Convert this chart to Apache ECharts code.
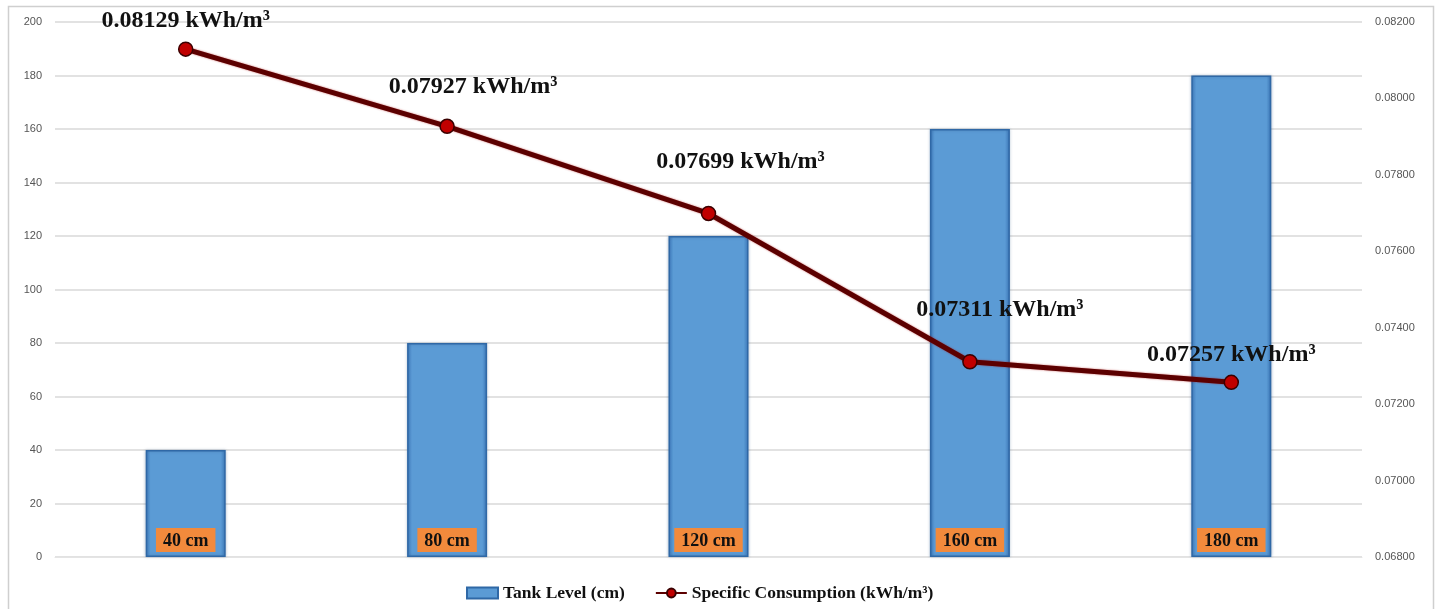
<!DOCTYPE html>
<html>
<head>
<meta charset="utf-8">
<title>Tank Level vs Specific Consumption</title>
<script src="https://cdn.jsdelivr.net/npm/echarts@6/dist/echarts.min.js"></script>
<style>
  html, body { margin: 0; padding: 0; background: #ffffff; }
  #chart { width: 1439px; height: 609px; }
</style>
</head>
<body>
<div id="chart"></div>
<script>
// Tank levels tested (category axis)
const categories = ['40 cm', '80 cm', '120 cm', '160 cm', '180 cm'];
// Tank level in cm (bars, left axis)
const tankLevel = [40, 80, 120, 160, 180];
// Specific energy consumption in kWh/m³ (line, right axis)
const specificConsumption = [0.08129, 0.07927, 0.07699, 0.07311, 0.07257];
// Left-axis range and right-axis range
const leftAxis = { min: 0, max: 200, interval: 20 };
const rightAxis = { min: 0.068, max: 0.082, interval: 0.002 };

const serif = '"Liberation Serif", "Times New Roman", serif';
const sans = '"Liberation Sans", Arial, sans-serif';

// label nudges for the consumption labels: [dx, dy]
const lineLabelNudge = [[0, -28], [26, -40], [32, -52], [30, -52], [0, -28]];

const chart = echarts.init(document.getElementById('chart'), null, { renderer: 'canvas' });

const option = {
  backgroundColor: '#ffffff',
  animation: false,
  graphic: [{
    type: 'rect',
    shape: { x: 8.5, y: 6.5, width: 1425, height: 610 },
    style: { fill: 'none', stroke: '#cfcfcf', lineWidth: 1.5 },
    silent: true, z: -1
  }],
  grid: { left: 55, right: 77, top: 22, bottom: 52, containLabel: false },
  legend: {
    left: 461,
    top: 579,
    itemGap: 30,
    itemWidth: 31,
    itemHeight: 11,
    textStyle: { fontFamily: serif, fontWeight: 'bold', fontSize: 17.5, color: '#111' },
    data: [
      { name: 'Tank Level (cm)', icon: 'rect' },
      { name: 'Specific Consumption (kWh/m³)' }
    ]
  },
  xAxis: {
    type: 'category',
    data: categories,
    axisLine: { show: true, lineStyle: { color: '#e4e4e4', width: 1 } },
    axisTick: { show: false },
    axisLabel: { show: false }
  },
  yAxis: [
    {
      type: 'value',
      min: leftAxis.min, max: leftAxis.max, interval: leftAxis.interval,
      axisLine: { show: false },
      axisTick: { show: false },
      axisLabel: { margin: 13, fontFamily: sans, fontSize: 11, color: '#555' },
      splitLine: { lineStyle: { color: '#d9d9d9', width: 1.5 } }
    },
    {
      type: 'value',
      min: rightAxis.min, max: rightAxis.max, interval: rightAxis.interval,
      axisLine: { show: false },
      axisTick: { show: false },
      splitLine: { show: false },
      axisLabel: {
        margin: 13, fontFamily: sans, fontSize: 11, color: '#555',
        formatter: v => v.toFixed(5)
      }
    }
  ],
  series: [
    {
      name: 'Tank Level (cm)',
      type: 'bar',
      yAxisIndex: 0,
      barWidth: 80,
      data: tankLevel,
      itemStyle: {
        color: {
          type: 'linear', x: 0, y: 0, x2: 1, y2: 0,
          colorStops: [
            { offset: 0, color: '#3f7bbd' },
            { offset: 0.06, color: '#5b9bd5' },
            { offset: 0.94, color: '#5b9bd5' },
            { offset: 1, color: '#3f7bbd' }
          ]
        },
        borderColor: '#2f68a6',
        borderWidth: 1.5,
        shadowColor: 'rgba(40,80,130,0.35)',
        shadowBlur: 3
      },
      label: {
        show: true,
        position: 'insideBottom',
        distance: 5,
        formatter: p => categories[p.dataIndex],
        fontFamily: serif,
        fontWeight: 'bold',
        fontSize: 18,
        color: '#111',
        backgroundColor: '#f28a3c',
        padding: [4, 7, 2, 7]
      }
    },
    {
      name: 'Specific Consumption (kWh/m³)',
      type: 'line',
      yAxisIndex: 1,
      data: specificConsumption.map((v, i) => ({
        value: v,
        label: { offset: lineLabelNudge[i] }
      })),
      symbol: 'circle',
      symbolSize: 14,
      lineStyle: {
        color: '#5c0000', width: 5,
        shadowColor: 'rgba(170,0,0,0.6)', shadowBlur: 2
      },
      itemStyle: { color: '#c00000', borderColor: '#3a0000', borderWidth: 1.5 },
      label: {
        show: true,
        position: 'inside',
        formatter: p => p.value.toFixed(5) + ' kWh/m³',
        fontFamily: serif,
        fontWeight: 'bold',
        fontSize: 24,
        color: '#111'
      },
      z: 5
    }
  ]
};

chart.setOption(option);
</script>
</body>
</html>
